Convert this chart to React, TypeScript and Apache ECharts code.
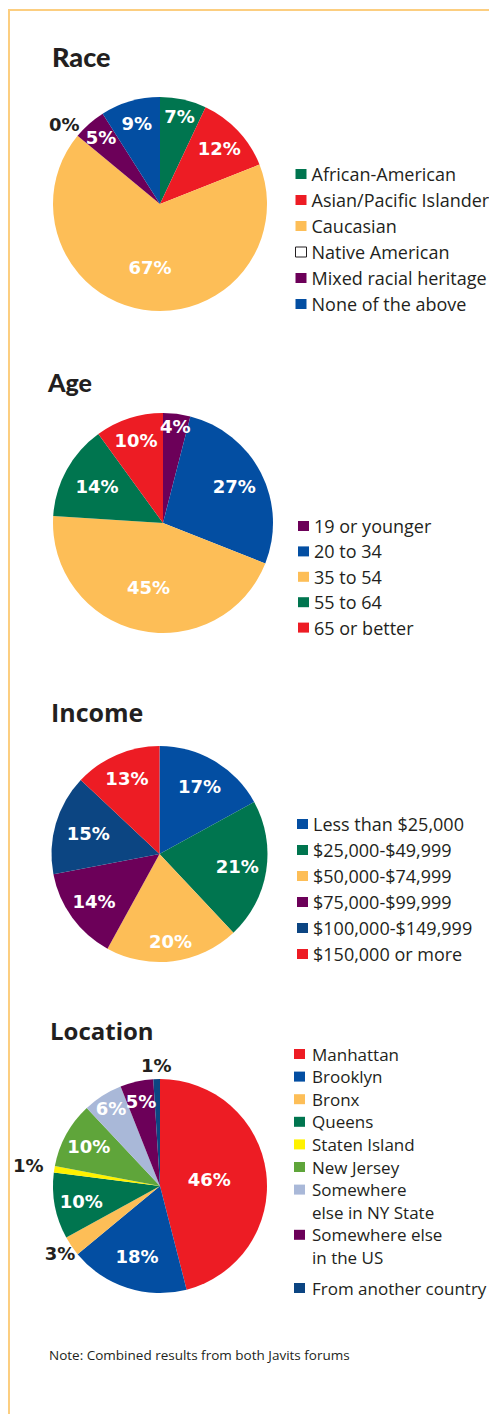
import React, { useEffect, useRef } from 'react';
import * as echarts from 'echarts';

const DARK = '#231f20';
const WHITE = '#ffffff';

// ---------- Data ----------
const raceNames = ['African-American', 'Asian/Pacific Islander', 'Caucasian', 'Native American', 'Mixed racial heritage', 'None of the above'];
const raceValues = [7, 12, 67, 0, 5, 9];
const raceColors = ['#00754f', '#ed1c24', '#fdbe57', '#ffffff', '#6c0059', '#034ea2'];
const raceLabelRadius = [0.79, 0.72, 0.57, 1.1, 0.79, 0.74];

const ageNames = ['19 or younger', '20 to 34', '35 to 54', '55 to 64', '65 or better'];
const ageValues = [4, 27, 45, 14, 10];
const ageColors = ['#6c0059', '#034ea2', '#fdbe57', '#00754f', '#ed1c24'];
const ageLabelRadius = [0.84, 0.69, 0.57, 0.65, 0.75];

const incomeNames = ['Less than $25,000', '$25,000-$49,999', '$50,000-$74,999', '$75,000-$99,999', '$100,000-$149,999', '$150,000 or more'];
const incomeValues = [17, 21, 20, 14, 15, 13];
const incomeColors = ['#034ea2', '#00754f', '#fdbe57', '#6c0059', '#0c4582', '#ed1c24'];
const incomeLabelRadius = [0.69, 0.69, 0.77, 0.71, 0.65, 0.72];

const locationNames = ['Manhattan', 'Brooklyn', 'Bronx', 'Queens', 'Staten Island', 'New Jersey', 'Somewhere else in NY State', 'Somewhere else in the US', 'From another country'];
const locationLegendText = ['Manhattan', 'Brooklyn', 'Bronx', 'Queens', 'Staten Island', 'New Jersey', 'Somewhere\nelse in NY State', 'Somewhere else\nin the US', 'From another country'];
const locationValues = [46, 18, 3, 10, 1, 10, 6, 5, 1];
const locationColors = ['#ed1c24', '#034ea2', '#fdbe57', '#00754f', '#fff200', '#5fa53a', '#a9b8d8', '#6c0059', '#0c4582'];
const locationLabelRadius = [0.44, 0.66, 1.07, 0.71, 1.18, 0.72, 0.81, 0.77, 1.07];

const titles = ['Race', 'Age', 'Income', 'Location'];
const noteText = 'Note: Combined results from both Javits forums';

// ---------- Builders ----------
function pieSeries(names: string[], values: number[], colors: string[], fracs: number[], cx: number, cy: number, r: number) {
  return {
    type: 'pie',
    center: [cx, cy],
    radius: r,
    startAngle: 90,
    clockwise: true,
    avoidLabelOverlap: false,
    silent: true,
    itemStyle: { borderWidth: 0 },
    label: {
      show: true,
      position: 'inside',
      formatter: '{c}%',
      fontFamily: 'DejaVu Sans',
      fontWeight: 'bold',
      fontSize: 18,
      color: WHITE,
    },
    labelLine: { show: false },
    emphasis: { disabled: true },
    data: names.map((n, i) => ({
      name: n,
      value: values[i],
      itemStyle: { color: colors[i] },
      label: { color: fracs[i] > 1 ? DARK : WHITE },
    })),
    labelLayout: (p: any) => {
      const f = fracs[p.dataIndex];
      const rc = p.labelRect;
      const lx = rc.x + rc.width / 2;
      const ly = rc.y + rc.height / 2;
      const k = f / 0.5 - 1;
      return { dx: (lx - cx) * k, dy: (ly - cy) * k };
    },
  };
}

function legendOf(names: string[], left: number, top: number, gap: number, spacing: number, special?: Record<string, any>) {
  return {
    orient: 'vertical',
    left,
    top,
    padding: 0,
    itemWidth: 11,
    itemHeight: 10,
    itemGap: gap,
    icon: 'rect',
    selectedMode: false,
    textStyle: { fontFamily: 'Open Sans', fontSize: 18, color: DARK, lineHeight: 18, letterSpacing: spacing },
    data: names.map((n) => (special && special[n] ? { name: n, itemStyle: special[n] } : { name: n })),
  };
}

function titleOf(text: string, left: number, top: number, family: string, weight: any, size: number, spacing: number) {
  return {
    text,
    left,
    top,
    padding: 0,
    textStyle: { fontFamily: family, fontWeight: weight, fontSize: size, lineHeight: size, color: DARK, letterSpacing: spacing } as any,
  };
}

export default function App() {
  const ref = useRef<HTMLDivElement>(null);

  useEffect(() => {
    if (!ref.current) return;
    const chart = echarts.init(ref.current, undefined, { renderer: 'svg' });

    // Location legend drawn as graphic (multi-line items)
    const locGraphic: any[] = [];
    const lineH = 22.6;
    let c = 1054;
    locationLegendText.forEach((t, i) => {
      if (i === locationLegendText.length - 1) c += 8;
      locGraphic.push({
        type: 'rect',
        shape: { x: 294, y: c - 5, width: 11, height: 10 },
        style: { fill: locationColors[i] },
        silent: true,
      });
      locGraphic.push({
        type: 'text',
        style: {
          text: t,
          x: 312,
          y: c - lineH / 2,
          fill: DARK,
          fontFamily: 'Open Sans',
          fontSize: 17,
          lineHeight: lineH,
          verticalAlign: 'top',
          textVerticalAlign: 'top',
        },
        silent: true,
      });
      c += lineH * t.split('\n').length;
    });

    chart.setOption({
      animation: false,
      backgroundColor: '#ffffff',
      title: [
        titleOf(titles[0], 52, 43, 'Lato', 900, 27, -1),
        titleOf(titles[1], 48, 369, 'Lato', 900, 25, -1),
        titleOf(titles[2], 51, 699, 'Open Sans', 'bold', 25, 0),
        titleOf(titles[3], 50, 1018, 'Open Sans', 'bold', 24, 0),
      ],
      legend: [
        legendOf(raceNames, 295, 165, 8, 0, { 'Native American': { color: '#ffffff', borderColor: DARK, borderWidth: 1 } }),
        legendOf(ageNames, 298, 517, 7.4, 0),
        legendOf(incomeNames, 297, 815, 8, 0.6),
      ],
      series: [
        pieSeries(raceNames, raceValues, raceColors, raceLabelRadius, 160, 204, 107),
        pieSeries(ageNames, ageValues, ageColors, ageLabelRadius, 163, 523, 110),
        pieSeries(incomeNames, incomeValues, incomeColors, incomeLabelRadius, 159.5, 854, 108),
        pieSeries(locationNames, locationValues, locationColors, locationLabelRadius, 160, 1186, 107),
      ],
      graphic: [
        {
          type: 'polyline',
          shape: { points: [[9, 1414], [9, 10], [489, 10]] },
          style: { stroke: '#fcce80', lineWidth: 2, fill: 'none' },
          silent: true,
        },
        {
          type: 'text',
          style: {
            text: noteText,
            x: 49,
            y: 1355,
            fill: DARK,
            fontFamily: 'Open Sans',
            fontSize: 13.5,
            verticalAlign: 'middle',
            textVerticalAlign: 'middle',
          },
          silent: true,
        },
        ...locGraphic,
      ],
    } as any);

    return () => chart.dispose();
  }, []);

  return <div ref={ref} style={{ position: 'absolute', left: 0, top: 0, width: 489, height: 1414 }} />;
}
